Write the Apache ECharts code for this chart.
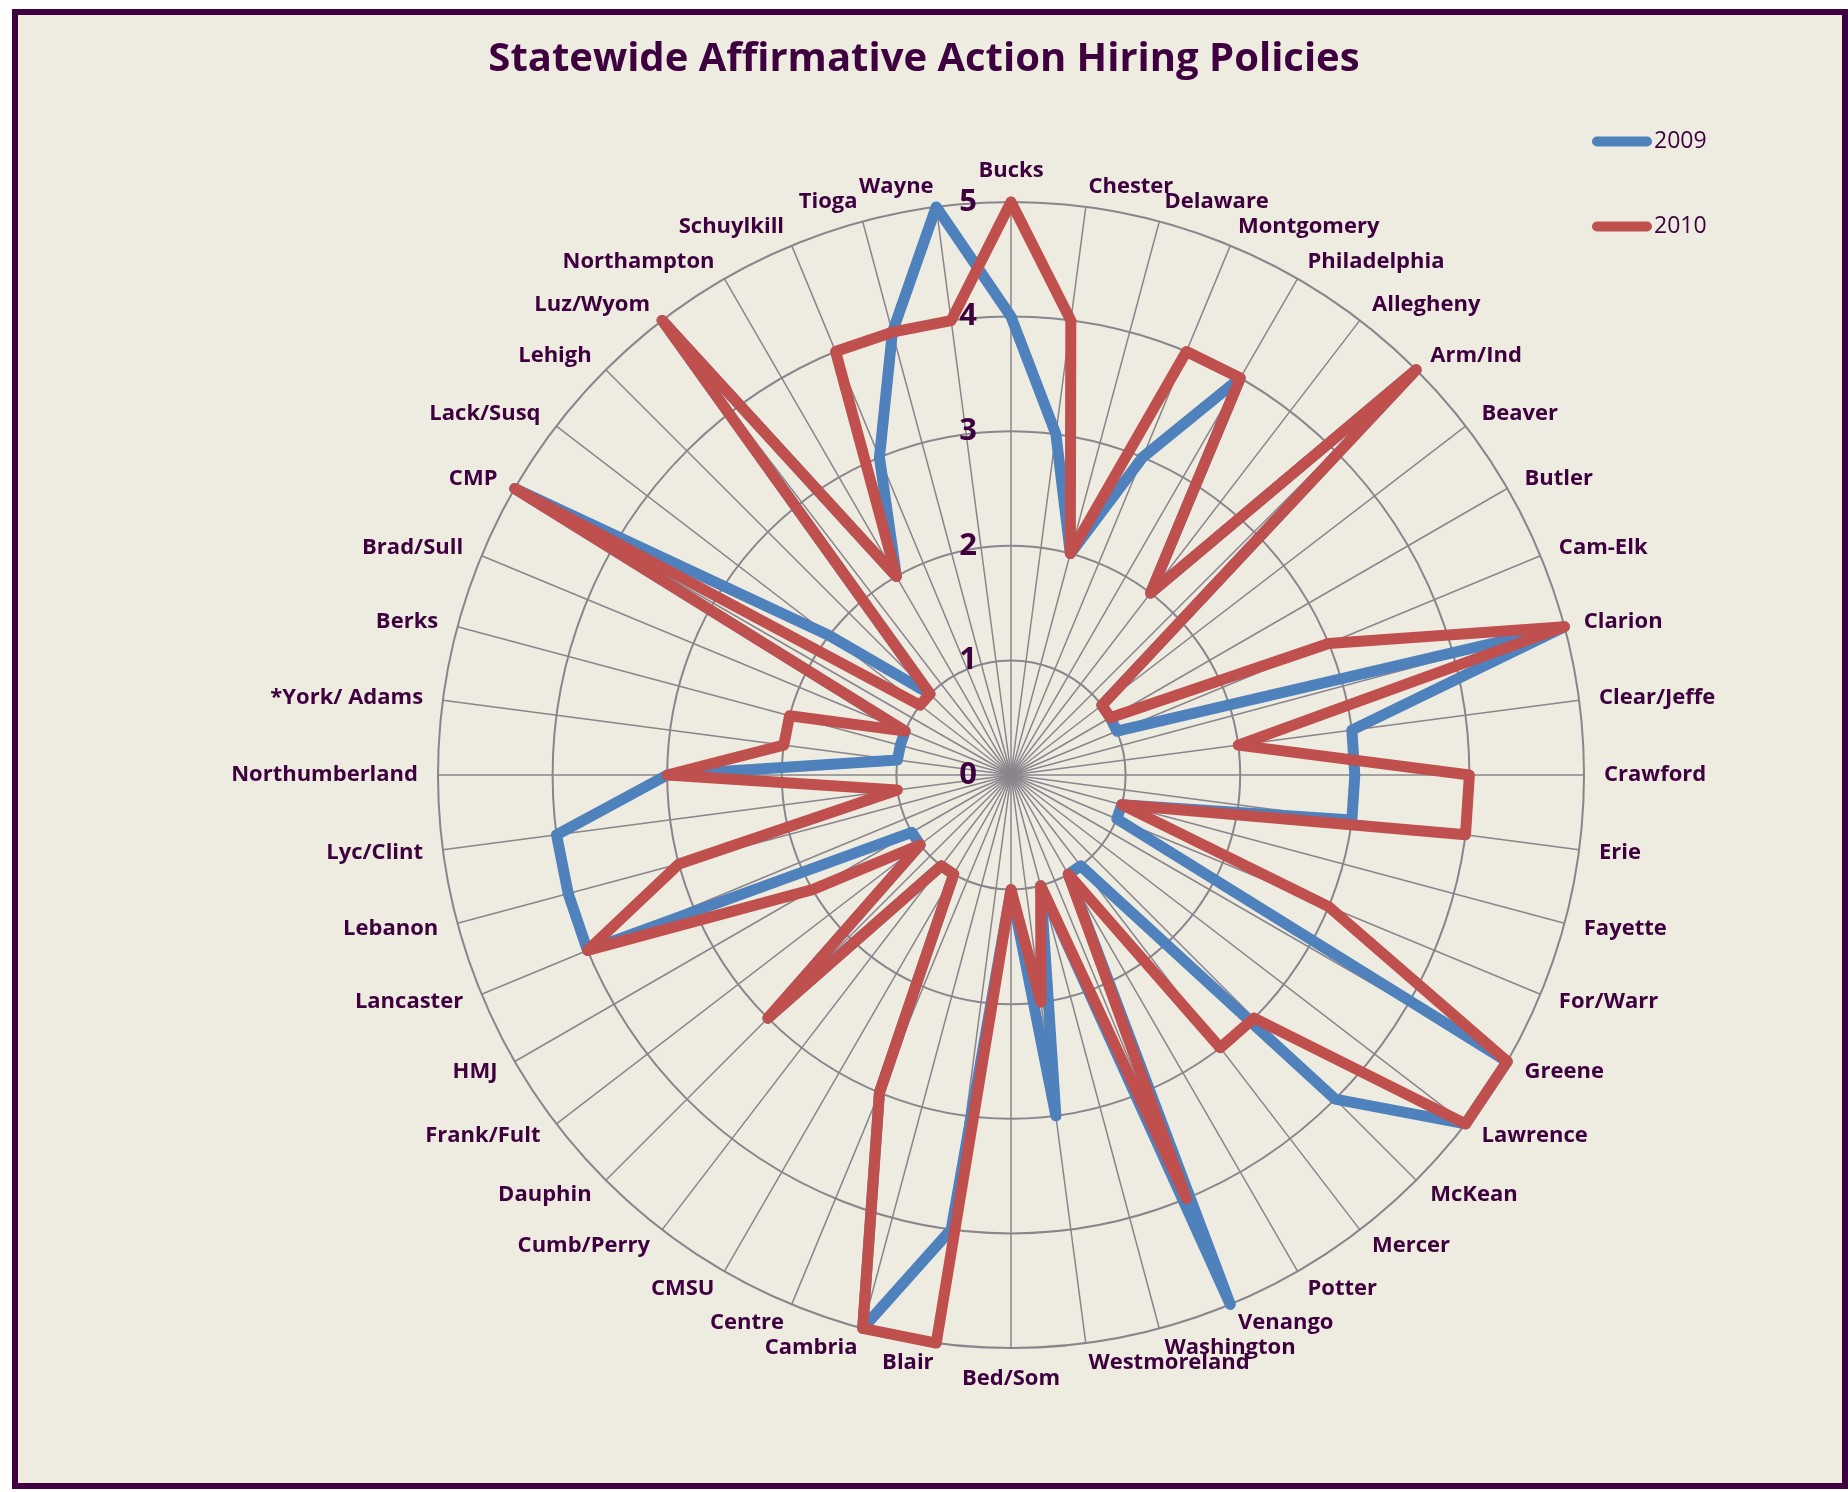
<!DOCTYPE html>
<html>
<head>
<meta charset="utf-8">
<script src="https://cdn.jsdelivr.net/npm/echarts/dist/echarts.min.js"></script>
<style>
  html, body { margin: 0; padding: 0; background: #ffffff; }
  .frame {
    position: absolute; left: 12px; top: 9px;
    width: 1836px; height: 1480px;
    box-sizing: border-box;
    border: 6px solid #3f0040;
    background: #eeece1;
  }
  .radar-chart { position: absolute; left: 0; top: 0; width: 1848px; height: 1492px; }
</style>
</head>
<body>
<div class="frame"></div>
<div id="radar" class="radar-chart"></div>
<script>
// counties, clockwise from the top
const counties = ['Bucks', 'Chester', 'Delaware', 'Montgomery', 'Philadelphia', 'Allegheny',
  'Arm/Ind', 'Beaver', 'Butler', 'Cam-Elk', 'Clarion', 'Clear/Jeffe', 'Crawford', 'Erie',
  'Fayette', 'For/Warr', 'Greene', 'Lawrence', 'McKean', 'Mercer', 'Potter', 'Venango',
  'Washington', 'Westmoreland', 'Bed/Som', 'Blair', 'Cambria', 'Centre', 'CMSU', 'Cumb/Perry',
  'Dauphin', 'Frank/Fult', 'HMJ', 'Lancaster', 'Lebanon', 'Lyc/Clint', 'Northumberland',
  '*York/ Adams', 'Berks', 'Brad/Sull', 'CMP', 'Lack/Susq', 'Lehigh', 'Luz/Wyom',
  'Northampton', 'Schuylkill', 'Tioga', 'Wayne']

const values2009 = [4, 3, 2, 3, 4, 2, 5, 1, 1, 1, 5, 3, 3, 3, 1, 1, 5, 5, 4, 1, 1, 5, 1, 3,
  1, 4, 5, 3, 1, 1, 3, 1, 1, 4, 4, 4, 3, 1, 1, 1, 5, 2, 1, 5, 2, 3, 4, 5]
const values2010 = [5, 4, 2, 4, 4, 2, 5, 1, 1, 3, 5, 2, 4, 4, 1, 3, 5, 5, 3, 3, 1, 4, 1, 2,
  1, 5, 5, 3, 1, 1, 3, 1, 2, 4, 3, 1, 3, 2, 2, 1, 5, 1, 1, 5, 2, 4, 4, 4]

const seriesNames = ['2009', '2010']
const scaleMax = 5

const textColor = '#3f0040'
const gridColor = '#8a848c'

// radar runs counter-clockwise, so feed it the list reversed after the first item
const order = [0].concat(counties.map((c, i) => i).slice(1).reverse())

const myChart = echarts.init(document.getElementById('radar'))

myChart.setOption({
  animation: false,
  color: ['#4f81bd', '#c0504d'],
  title: {
    text: 'Statewide Affirmative Action Hiring Policies',
    left: 'center',
    top: 40,
    padding: [0, 0, 0, 14],
    textStyle: {
      fontFamily: 'Open Sans',
      fontWeight: 'bold',
      fontSize: 40,
      color: textColor
    }
  },
  legend: {
    orient: 'vertical',
    left: 1587,
    top: 125,
    itemWidth: 60,
    itemHeight: 10,
    itemGap: 62,
    icon: 'path://M5,0 L55,0 A5,5 0 0 1 55,10 L5,10 A5,5 0 0 1 5,0 Z',
    data: seriesNames,
    textStyle: {
      fontFamily: 'Open Sans',
      fontSize: 23,
      color: textColor,
      padding: [0, 0, 0, -3]
    }
  },
  radar: {
    center: [1011, 775],
    radius: 573,
    shape: 'circle',
    splitNumber: 5,
    nameGap: 20,
    axisName: {
      fontFamily: 'Open Sans',
      fontWeight: 'bold',
      fontSize: 22,
      color: textColor
    },
    axisLine: {
      lineStyle: { color: gridColor, width: 1.5 }
    },
    splitLine: {
      lineStyle: { color: gridColor, width: 2 }
    },
    splitArea: { show: false },
    indicator: order.map((i, k) => ({
      name: counties[i],
      min: 0,
      max: scaleMax,
      axisLabel: k === 0 ? {
        show: true,
        margin: 34,
        fontFamily: 'Open Sans',
        fontWeight: 'bold',
        fontSize: 31,
        color: textColor
      } : { show: false }
    }))
  },
  series: [values2009, values2010].map((vals, s) => ({
    type: 'radar',
    name: seriesNames[s],
    symbol: 'none',
    silent: true,
    lineStyle: { width: 11, cap: 'round', join: 'round' },
    data: [{
      name: seriesNames[s],
      value: order.map(i => vals[i])
    }]
  }))
})
</script>
</body>
</html>
